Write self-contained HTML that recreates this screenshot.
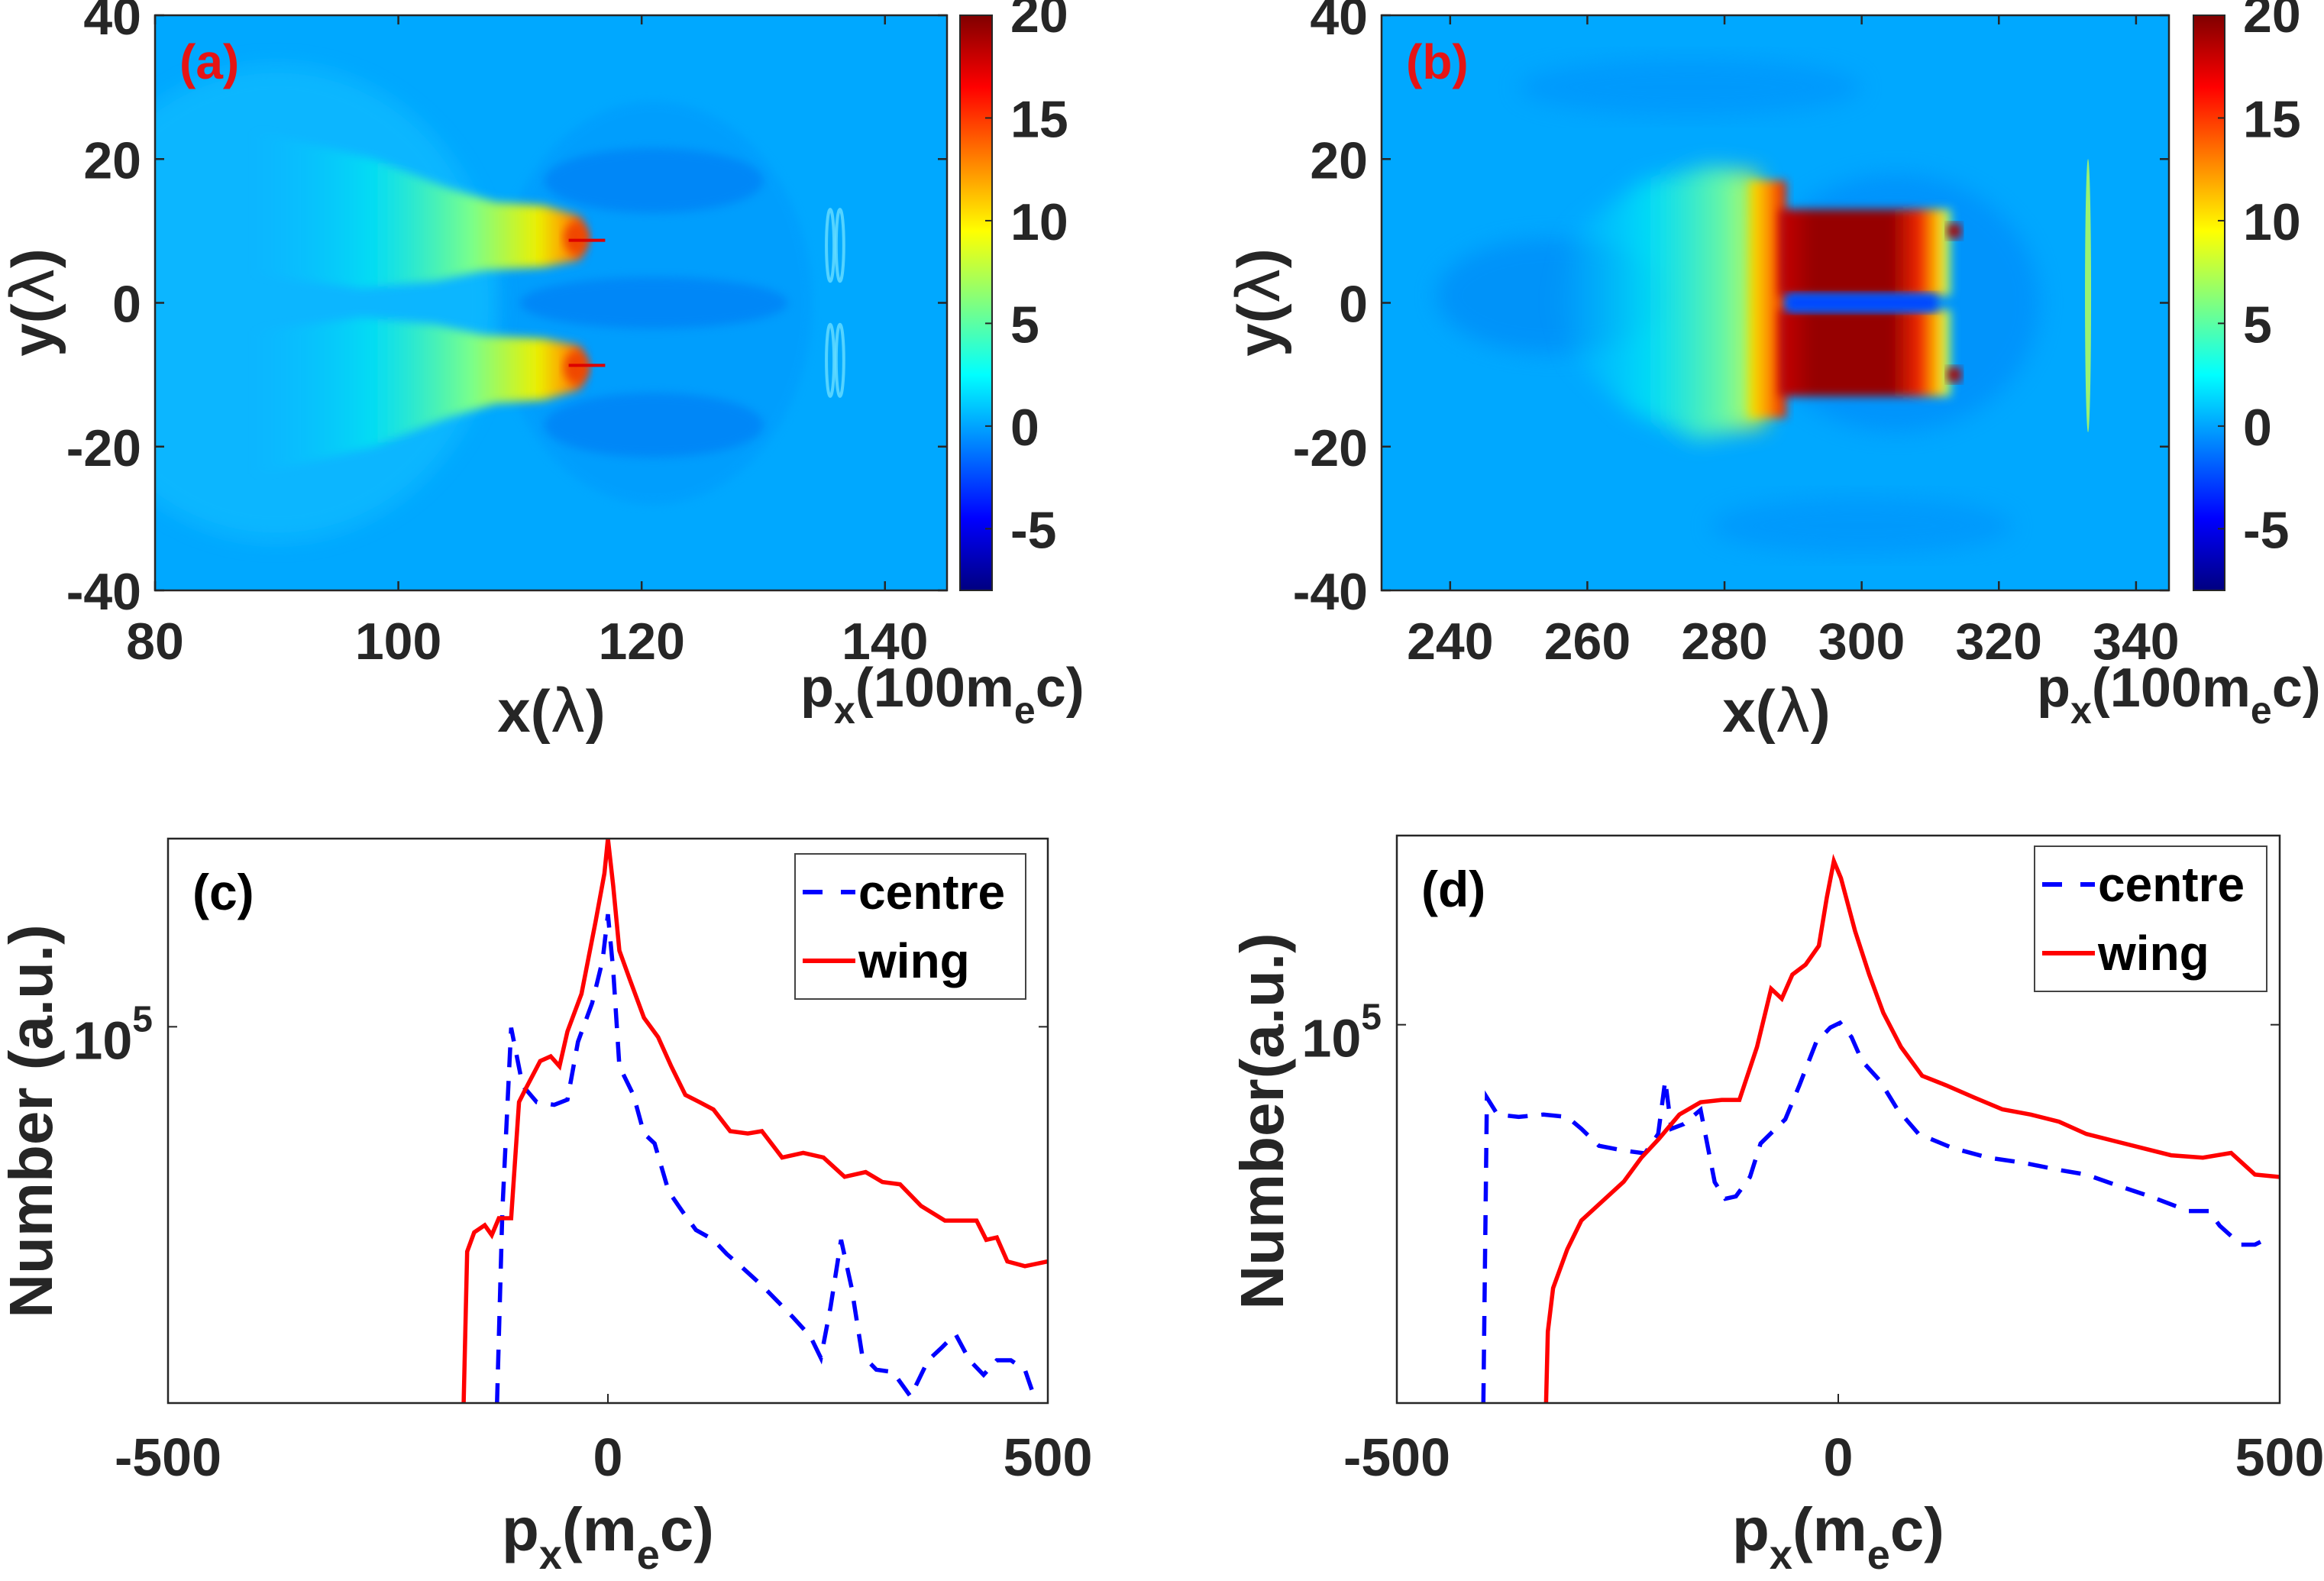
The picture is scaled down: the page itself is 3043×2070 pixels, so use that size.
<!DOCTYPE html>
<html><head><meta charset="utf-8"><title>Momentum maps and spectra</title>
<style>
html,body{margin:0;padding:0;background:#fff;}
svg{display:block;}
text{font-family:"Liberation Sans",sans-serif;font-weight:bold;}
</style></head>
<body>
<svg id="fig" xmlns="http://www.w3.org/2000/svg" width="3043" height="2070" viewBox="0 0 3043 2070">
<defs>
  <linearGradient id="jet" x1="0" y1="1" x2="0" y2="0">
    <stop offset="0" stop-color="rgb(0,0,128)"/>
    <stop offset="0.125" stop-color="rgb(0,0,255)"/>
    <stop offset="0.375" stop-color="rgb(0,255,255)"/>
    <stop offset="0.625" stop-color="rgb(255,255,0)"/>
    <stop offset="0.875" stop-color="rgb(255,0,0)"/>
    <stop offset="1" stop-color="rgb(128,0,0)"/>
  </linearGradient>
  <filter id="soft" x="-20%" y="-20%" width="140%" height="140%"><feGaussianBlur stdDeviation="6"/></filter>
  <filter id="soft2" x="-20%" y="-20%" width="140%" height="140%"><feGaussianBlur stdDeviation="14"/></filter>
  <linearGradient id="plumeA" x1="0" y1="0" x2="1" y2="0">
    <stop offset="0" stop-color="rgb(0,200,255)" stop-opacity="0"/>
    <stop offset="0.35" stop-color="rgb(0,235,240)" stop-opacity="0.7"/>
    <stop offset="0.65" stop-color="rgb(120,255,140)"/>
    <stop offset="0.85" stop-color="rgb(235,240,0)"/>
    <stop offset="0.94" stop-color="rgb(255,150,0)"/>
    <stop offset="1" stop-color="rgb(235,40,0)"/>
  </linearGradient>
  <linearGradient id="spreadB" x1="0" y1="0" x2="1" y2="0">
    <stop offset="0" stop-color="rgb(0,210,255)" stop-opacity="0"/>
    <stop offset="0.45" stop-color="rgb(0,235,245)" stop-opacity="0.75"/>
    <stop offset="0.85" stop-color="rgb(120,250,150)"/>
    <stop offset="1" stop-color="rgb(230,240,0)"/>
  </linearGradient>
  <linearGradient id="stripB" x1="0" y1="0" x2="1" y2="0">
    <stop offset="0" stop-color="rgb(240,240,0)"/>
    <stop offset="0.5" stop-color="rgb(255,150,0)"/>
    <stop offset="1" stop-color="rgb(230,20,0)"/>
  </linearGradient>
  <linearGradient id="redB" x1="0" y1="0" x2="1" y2="0">
    <stop offset="0" stop-color="rgb(200,0,0)"/>
    <stop offset="0.2" stop-color="rgb(150,0,0)"/>
    <stop offset="0.65" stop-color="rgb(150,0,0)"/>
    <stop offset="0.82" stop-color="rgb(240,40,0)"/>
    <stop offset="0.93" stop-color="rgb(255,200,0)"/>
    <stop offset="1" stop-color="rgb(140,255,130)"/>
  </linearGradient>
  <clipPath id="clipA"><rect x="203" y="20" width="1037" height="753"/></clipPath>
  <clipPath id="clipB"><rect x="1809" y="20" width="1031" height="753"/></clipPath>
  <clipPath id="clipC"><rect x="220" y="1098" width="1152" height="739"/></clipPath>
  <clipPath id="clipD"><rect x="1829" y="1094" width="1156" height="743"/></clipPath>
</defs>
<g id="root"></g>
</svg>
<script>
// ---------- spectrum data (log10 of counts) ----------
const cWingX = [-164,-160,-152,-140,-132,-124,-110,-101,-93,-77,-65,-55,-46,-30,-14,-4,0,6,13,25,41,57,72,88,104,120,139,159,175,198,222,245,269,293,312,332,356,383,419,430,442,454,474,500];
const cWingY = [4.2,4.522,4.563,4.578,4.557,4.593,4.593,4.84,4.87,4.927,4.937,4.916,4.99,5.07,5.224,5.326,5.4,5.3,5.162,5.1,5.019,4.978,4.916,4.855,4.84,4.824,4.778,4.773,4.778,4.722,4.732,4.722,4.681,4.691,4.67,4.665,4.619,4.588,4.588,4.547,4.552,4.501,4.491,4.501];
const cCentreX = [-126,-120,-110,-97,-81,-61,-46,-34,-18,-6,0,6,13,29,41,53,69,84,100,120,135,151,175,194,210,230,242,253,265,277,289,305,324,344,364,379,395,411,427,442,458,474,487];
const cCentreY = [4.2,4.609,4.998,4.875,4.84,4.834,4.845,4.968,5.05,5.142,5.239,5.121,4.916,4.855,4.773,4.752,4.65,4.609,4.568,4.547,4.517,4.491,4.45,4.414,4.383,4.342,4.296,4.404,4.547,4.445,4.302,4.271,4.266,4.214,4.291,4.317,4.347,4.291,4.26,4.291,4.291,4.271,4.2];
const dWingX = [-331,-329,-323,-307,-291,-267,-243,-223,-203,-180,-156,-132,-112,-92,-76,-64,-52,-37,-22,-13,-5,3,19,35,51,71,95,122,154,186,218,250,281,313,345,377,413,445,472,500];
const dWingY = [4.2,4.351,4.443,4.525,4.586,4.627,4.668,4.719,4.759,4.81,4.836,4.841,4.841,4.953,5.076,5.055,5.106,5.127,5.167,5.269,5.346,5.31,5.198,5.106,5.025,4.953,4.892,4.872,4.846,4.821,4.81,4.795,4.769,4.754,4.739,4.724,4.719,4.729,4.683,4.678];
const dCentreX = [-402,-398,-386,-362,-334,-307,-291,-271,-243,-219,-204,-196,-189,-175,-156,-140,-128,-116,-100,-88,-60,-44,-25,-9,2,15,27,47,67,91,130,170,210,250,281,313,353,397,420,432,456,472,488];
const dCentreY = [4.2,4.846,4.81,4.805,4.81,4.805,4.78,4.744,4.734,4.728,4.769,4.882,4.78,4.79,4.82,4.667,4.632,4.637,4.678,4.749,4.8,4.872,4.963,4.994,5.004,4.974,4.923,4.882,4.821,4.769,4.739,4.719,4.708,4.693,4.683,4.662,4.637,4.606,4.606,4.575,4.535,4.535,4.55];
const pxTicks = [-500, 0, 500];
const pxTickLabels = ["-500", "0", "500"];
const xTicksA = [80, 100, 120, 140];
const xTicksB = [240, 260, 280, 300, 320, 340];
const yTicksMap = [40, 20, 0, -20, -40];
const cbTicks = [20, 15, 10, 5, 0, -5];

const NS = "http://www.w3.org/2000/svg";
const root = document.getElementById('root');
function el(tag, attrs, parent, text) {
  const e = document.createElementNS(NS, tag);
  for (const k in attrs) e.setAttribute(k, attrs[k]);
  if (text !== undefined) e.textContent = text;
  (parent || root).appendChild(e);
  return e;
}
function lin(d0, d1, p0, p1) { return v => p0 + (v - d0) / (d1 - d0) * (p1 - p0); }

function frame(g, x0, y0, x1, y1) {
  const r = el('rect', {x:x0, y:y0, width:x1-x0, height:y1-y0, fill:'none', stroke:'#262626', 'stroke-width':2.5}, g);
  
  
}
function tickLabel(g, x, y, txt, anchor, size, name) {
  const t = el('text', {x:x, y:y, 'font-size':size, fill:'#262626', 'text-anchor':anchor}, g, txt);
  
  
  return t;
}

function mapPanel(opts) {
  const g = el('g', {});
  
  
  const X = lin(opts.xmin, opts.xmax, opts.x0, opts.x1);
  const Y = lin(-40, 40, opts.y1, opts.y0);
  const img = el('g', {'clip-path':'url(#' + opts.clip + ')'}, g);
  
  
  el('rect', {x:opts.x0, y:opts.y0, width:opts.x1-opts.x0, height:opts.y1-opts.y0, fill:'rgb(0,168,255)'}, img);
  opts.draw(img, X, Y);
  frame(g, opts.x0, opts.y0, opts.x1, opts.y1);
  opts.xticks.forEach(v => {
    el('line', {x1:X(v), x2:X(v), y1:opts.y1, y2:opts.y1-12, stroke:'#262626', 'stroke-width':2.5}, g);
    el('line', {x1:X(v), x2:X(v), y1:opts.y0, y2:opts.y0+12, stroke:'#262626', 'stroke-width':2.5}, g);
    tickLabel(g, X(v), opts.y1 + 90, String(v), 'middle', 68, 'x-tick-label');
  });
  yTicksMap.forEach(v => {
    el('line', {x1:opts.x0, x2:opts.x0+12, y1:Y(v), y2:Y(v), stroke:'#262626', 'stroke-width':2.5}, g);
    el('line', {x1:opts.x1, x2:opts.x1-12, y1:Y(v), y2:Y(v), stroke:'#262626', 'stroke-width':2.5}, g);
    tickLabel(g, opts.x0 - 18, Y(v) + 25, String(v), 'end', 68, 'y-tick-label');
  });
  const cb = el('g', {}, g);
  
  
  el('rect', {x:opts.cbx0, y:opts.y0, width:opts.cbx1-opts.cbx0, height:opts.y1-opts.y0, fill:'url(#jet)', stroke:'#262626', 'stroke-width':2}, cb);
  const C = lin(-8, 20, opts.y1, opts.y0);
  cbTicks.forEach(v => {
    el('line', {x1:opts.cbx1, x2:opts.cbx1-9, y1:C(v), y2:C(v), stroke:'#262626', 'stroke-width':2}, cb);
    tickLabel(cb, opts.cbx1 + 24, C(v) + (v === 20 ? 22 : 25), String(v), 'start', 68, 'colorbar-tick-label');
  });
  const xl = el('text', {x:opts.xlabX, y:958, 'font-size':78, fill:'#262626', 'text-anchor':'middle'}, g);
  
  
  xl.innerHTML = 'x(<tspan font-weight="normal" font-family="DejaVu Sans">λ</tspan>)';
  const yl = el('text', {x:0, y:0, 'font-size':78, fill:'#262626', 'text-anchor':'middle', transform:'translate(' + opts.ylabX + ',396) rotate(-90)'}, g);
  
  
  yl.innerHTML = 'y(<tspan font-weight="normal" font-family="DejaVu Sans">λ</tspan>)';
  const cl = el('text', {x:opts.cblabX, y:925, 'font-size':72, fill:'#262626'}, g);
  
  
  cl.innerHTML = 'p<tspan font-size="50" dy="22">x</tspan><tspan dy="-22">(100m</tspan><tspan font-size="50" dy="22">e</tspan><tspan dy="-22">c)</tspan>';
  const pl = el('text', {x:opts.x0 + 32, y:103, 'font-size':64, fill:'rgb(230,20,20)'}, g, opts.label);
  
  
}

mapPanel({name:'panel-a', clip:'clipA', xmin:80, xmax:145.1, x0:203, x1:1240, y0:20, y1:773,
  cbx0:1257, cbx1:1299, xticks:xTicksA, xlabX:722, ylabX:70, cblabX:1048, label:'(a)',
  draw:(g, X, Y) => {
    el('ellipse', {cx:X(121), cy:Y(0), rx:X(134)-X(121), ry:Y(0)-Y(28), fill:'rgb(0,150,252)', opacity:0.5, filter:'url(#soft)'}, g);
    el('ellipse', {cx:X(90), cy:Y(0), rx:X(108)-X(90), ry:Y(0)-Y(33), fill:'rgb(20,195,255)', opacity:0.55, filter:'url(#soft2)'}, g);
    [[121,0,11,3.6],[121,17,9,4.5],[121,-17,9,4.5]].forEach(b => {
      el('ellipse', {cx:X(b[0]), cy:Y(b[1]), rx:X(b[0]+b[2])-X(b[0]), ry:Y(0)-Y(b[3]), fill:'rgb(0,128,245)', opacity:0.75, filter:'url(#soft)'}, g);
    });
    [135.5,136.3].forEach(x => {
      el('ellipse', {cx:X(x), cy:Y(8), rx:5, ry:Y(0)-Y(5), fill:'none', stroke:'rgb(120,230,255)', 'stroke-width':4, opacity:0.7}, g);
      el('ellipse', {cx:X(x), cy:Y(-8), rx:5, ry:Y(0)-Y(5), fill:'none', stroke:'rgb(120,230,255)', 'stroke-width':4, opacity:0.7}, g);
    });
    [1,-1].forEach(s => {
      const p = [[88,s*24],[98,s*20],[104,s*16],[108,s*14],[112,s*13.5],[115,s*12],[115.6,s*9],[115,s*6],[112,s*5],[107,s*4.5],[103,s*3],[97,s*2],[88,s*4]];
      el('path', {d:'M' + p.map(q => X(q[0]) + ',' + Y(q[1])).join('L') + 'Z', fill:'url(#plumeA)', filter:'url(#soft)'}, g);
      el('ellipse', {cx:X(114.6), cy:Y(s*9), rx:X(115.6)-X(114.6), ry:Y(0)-Y(2.2), fill:'rgb(240,70,0)', filter:'url(#soft)'}, g);
      el('line', {x1:X(114), x2:X(117), y1:Y(s*8.7), y2:Y(s*8.7), stroke:'rgb(220,0,0)', 'stroke-width':4}, g);
    });
  }});

mapPanel({name:'panel-b', clip:'clipB', xmin:230, xmax:344.8, x0:1809, x1:2840, y0:20, y1:773,
  cbx0:2872, cbx1:2913, xticks:xTicksB, xlabX:2326, ylabX:1675, cblabX:2667, label:'(b)',
  draw:(g, X, Y) => {
    el('ellipse', {cx:X(255), cy:Y(1), rx:X(272)-X(255), ry:Y(0)-Y(8), fill:'rgb(0,130,245)', opacity:0.55, filter:'url(#soft2)'}, g);
    el('ellipse', {cx:X(305), cy:Y(0), rx:X(326)-X(305), ry:Y(0)-Y(18), fill:'rgb(0,135,250)', opacity:0.6, filter:'url(#soft2)'}, g);
    el('ellipse', {cx:X(275), cy:Y(30), rx:X(300)-X(275), ry:Y(0)-Y(4), fill:'rgb(0,140,250)', opacity:0.5, filter:'url(#soft2)'}, g);
    el('ellipse', {cx:X(300), cy:Y(-31), rx:X(322)-X(300), ry:Y(0)-Y(4), fill:'rgb(0,140,250)', opacity:0.5, filter:'url(#soft2)'}, g);
    el('path', {d:'M' + [[258,10],[268,17],[278,19],[285,18],[286,-17],[276,-19],[266,-15],[258,-8],[255,0]].map(q => X(q[0]) + ',' + Y(q[1])).join('L') + 'Z', fill:'url(#spreadB)', filter:'url(#soft2)'}, g);
    el('rect', {x:X(283.5), y:Y(17), width:X(289)-X(283.5), height:Y(-16)-Y(17), fill:'url(#stripB)', filter:'url(#soft)'}, g);
    [1,-1].forEach(s => {
      const top = s > 0 ? 13 : -1, bot = s > 0 ? 1 : -13;
      el('rect', {x:X(288), y:Y(top), width:X(313)-X(288), height:Y(bot)-Y(top), fill:'url(#redB)', filter:'url(#soft)'}, g);
      el('rect', {x:X(312.5), y:Y(s*10+1), width:X(314.5)-X(312.5), height:Y(0)-Y(2), fill:'rgb(170,0,0)', filter:'url(#soft)'}, g);
    });
    el('rect', {x:X(289), y:Y(1.2), width:X(311)-X(289), height:Y(-1.2)-Y(1.2), fill:'rgb(0,70,255)', filter:'url(#soft)'}, g);
    el('ellipse', {cx:X(333), cy:Y(1), rx:4, ry:Y(0)-Y(19), fill:'rgb(180,255,90)', opacity:0.85}, g);
  }});

function specPanel(opts) {
  const g = el('g', {});
  
  
  const X = lin(-500, 500, opts.x0, opts.x1);
  const Y = lin(4.2, 5.4, opts.y1, opts.y0);
  el('rect', {x:opts.x0, y:opts.y0, width:opts.x1-opts.x0, height:opts.y1-opts.y0, fill:'#fff'}, g);
  const lines = el('g', {'clip-path':'url(#' + opts.clip + ')'}, g);
  const pc = el('path', {d:opts.cx.map((v,i) => (i ? 'L' : 'M') + X(v).toFixed(1) + ',' + Y(opts.cy[i]).toFixed(1)).join(''), fill:'none', stroke:'rgb(0,0,255)', 'stroke-width':5.5, 'stroke-dasharray':'26,18'}, lines);
  
  
  const pw = el('path', {d:opts.wx.map((v,i) => (i ? 'L' : 'M') + X(v).toFixed(1) + ',' + Y(opts.wy[i]).toFixed(1)).join(''), fill:'none', stroke:'rgb(255,0,0)', 'stroke-width':5.5}, lines);
  
  
  frame(g, opts.x0, opts.y0, opts.x1, opts.y1);
  pxTicks.forEach((v, i) => {
    el('line', {x1:X(v), x2:X(v), y1:opts.y1, y2:opts.y1-12, stroke:'#262626', 'stroke-width':2}, g);
    tickLabel(g, X(v), 1932, pxTickLabels[i], 'middle', 70, 'x-tick-label');
  });
  const y5 = Y(5);
  el('line', {x1:opts.x0, x2:opts.x0+12, y1:y5, y2:y5, stroke:'#262626', 'stroke-width':2}, g);
  el('line', {x1:opts.x1, x2:opts.x1-12, y1:y5, y2:y5, stroke:'#262626', 'stroke-width':2}, g);
  const yt = el('text', {x:opts.x0 - 20, y:y5 + 42, 'font-size':70, fill:'#262626', 'text-anchor':'end'}, g);
  
  
  yt.innerHTML = '10<tspan font-size="48" dy="-36">5</tspan>';
  const xl = el('text', {x:X(0), y:2030, 'font-size':80, fill:'#262626', 'text-anchor':'middle'}, g);
  
  
  xl.innerHTML = 'p<tspan font-size="54" dy="24">x</tspan><tspan dy="-24">(m</tspan><tspan font-size="54" dy="24">e</tspan><tspan dy="-24">c)</tspan>';
  const yl = el('text', {x:0, y:0, 'font-size':80, fill:'#262626', 'text-anchor':'middle', transform:'translate(' + opts.ylabX + ',1468) rotate(-90)'}, g, opts.ylab);
  
  
  const pl = el('text', {x:opts.x0 + 32, y:opts.y0 + 93, 'font-size':66, fill:'#000'}, g, opts.label);
  
  
  const lg = el('g', {}, g);
  
  
  el('rect', {x:opts.lx0, y:opts.ly0, width:opts.lx1-opts.lx0, height:opts.ly1-opts.ly0, fill:'#fff', stroke:'#444', 'stroke-width':2}, lg);
  const ly1 = opts.ly0 + 50, ly2 = opts.ly0 + 140;
  const e1 = el('line', {x1:opts.lx0+10, x2:opts.lx0+79, y1:ly1, y2:ly1, stroke:'rgb(0,0,255)', 'stroke-width':6, 'stroke-dasharray':'26,24'}, lg);
  
  
  tickLabel(lg, opts.lx0 + 83, ly1 + 22, 'centre', 'start', 64, 'legend-label-centre').setAttribute('fill', '#000');
  const e2 = el('line', {x1:opts.lx0+10, x2:opts.lx0+79, y1:ly2, y2:ly2, stroke:'rgb(255,0,0)', 'stroke-width':6}, lg);
  
  
  tickLabel(lg, opts.lx0 + 83, ly2 + 22, 'wing', 'start', 64, 'legend-label-wing').setAttribute('fill', '#000');
}

specPanel({name:'panel-c', clip:'clipC', x0:220, x1:1372, y0:1098, y1:1837, cx:cCentreX, cy:cCentreY, wx:cWingX, wy:cWingY,
  ylab:'Number (a.u.)', ylabX:68, label:'(c)', lx0:1041, lx1:1343, ly0:1118, ly1:1308});
specPanel({name:'panel-d', clip:'clipD', x0:1829, x1:2985, y0:1094, y1:1837, cx:dCentreX, cy:dCentreY, wx:dWingX, wy:dWingY,
  ylab:'Number(a.u.)', ylabX:1680, label:'(d)', lx0:2664, lx1:2968, ly0:1108, ly1:1298});
</script>
</body></html>
